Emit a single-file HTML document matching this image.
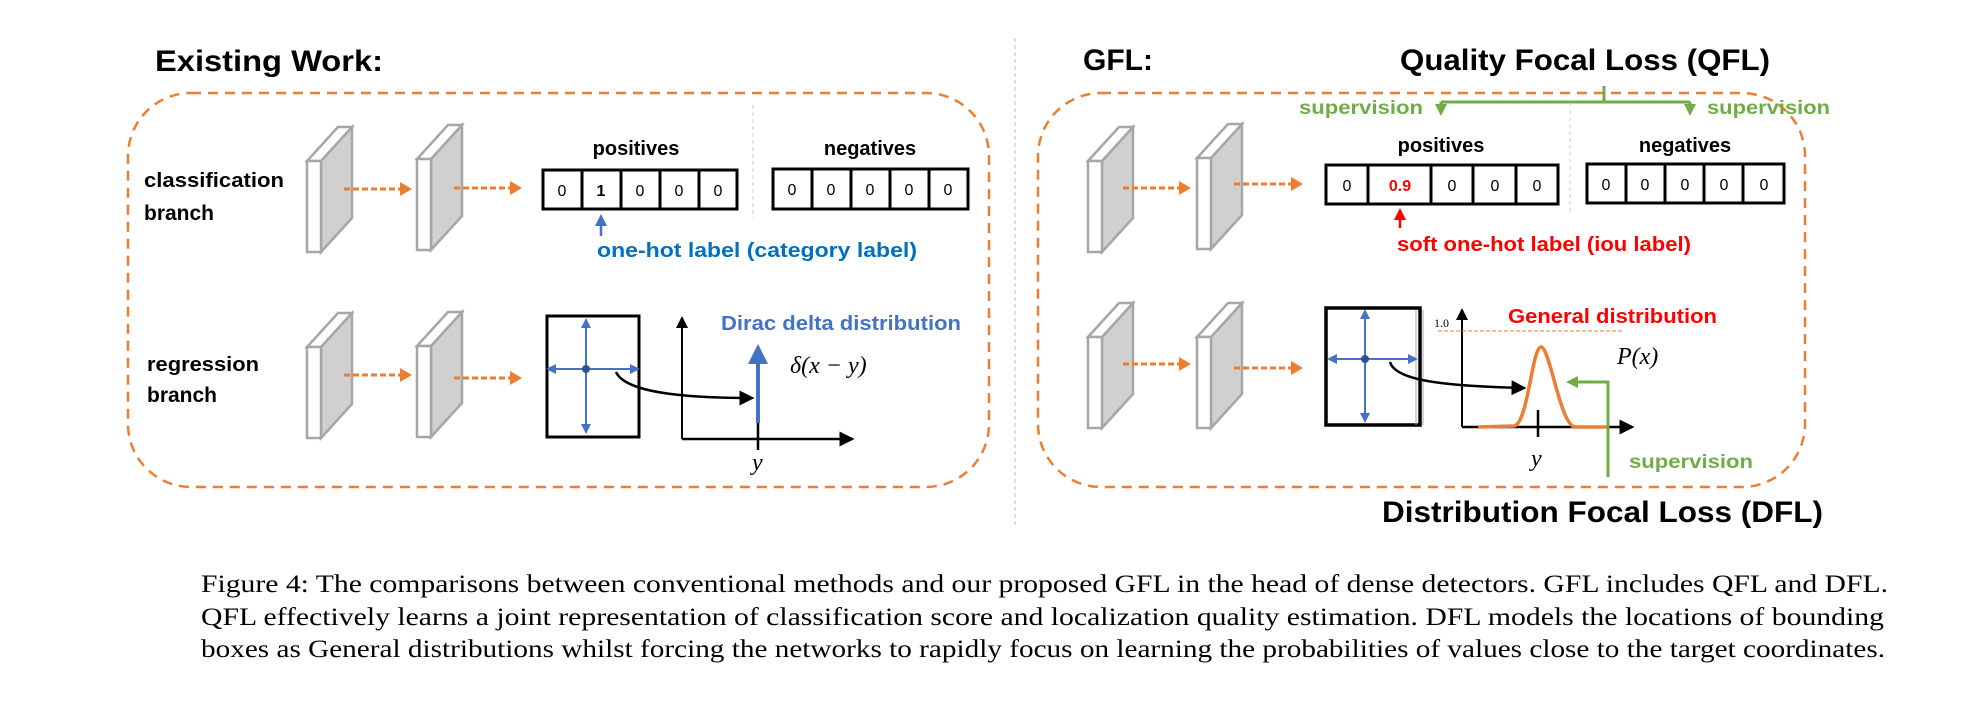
<!DOCTYPE html>
<html><head><meta charset="utf-8"><style>
html,body{margin:0;padding:0;background:#fff;}
svg{display:block;}
.b{font-family:"Liberation Sans",sans-serif;font-weight:bold;}
.s{font-family:"Liberation Serif",serif;}
</style></head><body>
<svg width="1970" height="714" viewBox="0 0 1970 714" xmlns="http://www.w3.org/2000/svg">
<defs>
<marker id="oa" markerWidth="12" markerHeight="14" refX="2" refY="7" orient="auto" markerUnits="userSpaceOnUse"><path d="M0,0 L12,7 L0,14 z" fill="#ED7D31"/></marker>
<marker id="ba" markerWidth="6" markerHeight="6" refX="5" refY="3" orient="auto" markerUnits="strokeWidth"><path d="M0,0 L6,3 L0,6 z" fill="#000"/></marker>
<marker id="bl" markerWidth="5" markerHeight="5" refX="4" refY="2.5" orient="auto" markerUnits="strokeWidth"><path d="M0,0 L5,2.5 L0,5 z" fill="#4472C4"/></marker>
<marker id="ga" markerWidth="12" markerHeight="12" refX="2" refY="6" orient="auto" markerUnits="userSpaceOnUse"><path d="M0,0 L12,6 L0,12 z" fill="#70AD47"/></marker>
<marker id="ra" markerWidth="12" markerHeight="12" refX="2" refY="6" orient="auto" markerUnits="userSpaceOnUse"><path d="M0,0 L12,6 L0,12 z" fill="#f00"/></marker>
<marker id="ua" markerWidth="12" markerHeight="12" refX="2" refY="6" orient="auto" markerUnits="userSpaceOnUse"><path d="M0,0 L12,6 L0,12 z" fill="#4472C4"/></marker>
<g id="slab">
<polygon points="14,34 45,0 45,91 14,125" fill="#d0d0d0" stroke="#a6a6a6" stroke-width="2.5"/>
<polygon points="0,34 14,34 45,0 31,0" fill="#fff" stroke="#a6a6a6" stroke-width="2.5"/>
<rect x="0" y="34" width="14" height="91" fill="#fff" stroke="#a6a6a6" stroke-width="2.5"/>
</g>
</defs>

<line x1="1015" y1="38" x2="1015" y2="528" stroke="#bbb" stroke-width="1" stroke-dasharray="4,3"/>

<!-- LEFT -->
<text class="b" x="155" y="71" font-size="30" textLength="228" lengthAdjust="spacingAndGlyphs">Existing Work:</text>
<rect x="128" y="93" width="861" height="394" rx="63" fill="none" stroke="#ED7D31" stroke-width="2.5" stroke-dasharray="10,7"/>
<text class="b" x="144" y="187" font-size="20" textLength="140" lengthAdjust="spacingAndGlyphs">classification</text>
<text class="b" x="144" y="220" font-size="21">branch</text>
<text class="b" x="147" y="371" font-size="20" textLength="112" lengthAdjust="spacingAndGlyphs">regression</text>
<text class="b" x="147" y="402" font-size="21">branch</text>
<use href="#slab" x="307" y="127"/>
<use href="#slab" x="417" y="125"/>
<use href="#slab" x="307" y="313"/>
<use href="#slab" x="417" y="312"/>
<g stroke="#ED7D31" stroke-width="3" stroke-dasharray="6,3" marker-end="url(#oa)" fill="none">
<line x1="344" y1="189" x2="402" y2="189"/>
<line x1="454" y1="188" x2="512" y2="188"/>
<line x1="344" y1="375" x2="402" y2="375"/>
<line x1="454" y1="378" x2="512" y2="378"/>
</g>
<text class="b" x="636" y="155" font-size="20" text-anchor="middle">positives</text>
<text class="b" x="870" y="155" font-size="20" text-anchor="middle">negatives</text>
<line x1="753" y1="105" x2="753" y2="218" stroke="#ccc" stroke-width="1" stroke-dasharray="4,3"/>
<g fill="none" stroke="#000" stroke-width="3">
<rect x="543" y="170" width="194" height="39"/>
<line x1="582" y1="170" x2="582" y2="209"/><line x1="621" y1="170" x2="621" y2="209"/><line x1="660" y1="170" x2="660" y2="209"/><line x1="699" y1="170" x2="699" y2="209"/>
<rect x="773" y="169" width="195" height="40"/>
<line x1="812" y1="169" x2="812" y2="209"/><line x1="851" y1="169" x2="851" y2="209"/><line x1="890" y1="169" x2="890" y2="209"/><line x1="929" y1="169" x2="929" y2="209"/>
</g>
<g font-family="Liberation Sans,sans-serif" font-size="16" text-anchor="middle">
<text x="562" y="196">0</text><text x="601" y="196" font-weight="bold">1</text><text x="640" y="196">0</text><text x="679" y="196">0</text><text x="718" y="196">0</text>
<text x="792" y="195">0</text><text x="831" y="195">0</text><text x="870" y="195">0</text><text x="909" y="195">0</text><text x="948" y="195">0</text>
</g>
<line x1="601" y1="236" x2="601" y2="224" stroke="#4472C4" stroke-width="2.5" marker-end="url(#ua)"/>
<text class="b" x="597" y="257" font-size="20" fill="#0070C0" textLength="320" lengthAdjust="spacingAndGlyphs">one-hot label (category label)</text>
<rect x="547" y="316" width="92" height="121" fill="none" stroke="#000" stroke-width="3"/>
<g stroke="#4472C4" stroke-width="2" marker-end="url(#bl)" fill="none">
<line x1="586" y1="369" x2="586" y2="432"/>
<line x1="586" y1="369" x2="586" y2="320"/>
<line x1="586" y1="369" x2="638" y2="369"/>
<line x1="586" y1="369" x2="548" y2="369"/>
</g>
<circle cx="586" cy="369" r="4" fill="#2F528F"/>
<path d="M616,372 C625,392 680,398 752,398" fill="none" stroke="#000" stroke-width="2.5" marker-end="url(#ba)"/>
<line x1="682" y1="439" x2="682" y2="318" stroke="#000" stroke-width="2" marker-end="url(#ba)"/>
<line x1="682" y1="439" x2="852" y2="439" stroke="#000" stroke-width="2.5" marker-end="url(#ba)"/>
<line x1="758" y1="423" x2="758" y2="348" stroke="#4472C4" stroke-width="4" marker-end="url(#bl)"/>
<line x1="758" y1="423" x2="758" y2="450" stroke="#000" stroke-width="2.5"/>
<text class="b" x="721" y="330" font-size="20" fill="#4472C4" textLength="240" lengthAdjust="spacingAndGlyphs">Dirac delta distribution</text>
<text class="s" x="790" y="373" font-size="24" font-style="italic">δ(x − y)</text>
<text class="s" x="752" y="470" font-size="24" font-style="italic">y</text>

<!-- RIGHT -->
<text class="b" x="1083" y="70" font-size="30">GFL:</text>
<text class="b" x="1400" y="70" font-size="30" textLength="370" lengthAdjust="spacingAndGlyphs">Quality Focal Loss (QFL)</text>
<rect x="1038" y="93" width="767" height="394" rx="63" fill="none" stroke="#ED7D31" stroke-width="2.5" stroke-dasharray="10,7"/>
<g stroke="#70AD47" stroke-width="3" fill="none">
<line x1="1604" y1="86" x2="1604" y2="102"/>
<line x1="1441" y1="102" x2="1690" y2="102"/>
<line x1="1441" y1="102" x2="1441" y2="106" marker-end="url(#ga)"/>
<line x1="1690" y1="102" x2="1690" y2="106" marker-end="url(#ga)"/>
</g>
<text class="b" x="1299" y="114" font-size="19" fill="#70AD47" textLength="124" lengthAdjust="spacingAndGlyphs">supervision</text>
<text class="b" x="1707" y="114" font-size="19" fill="#70AD47" textLength="123" lengthAdjust="spacingAndGlyphs">supervision</text>
<use href="#slab" x="1088" y="127"/>
<use href="#slab" x="1197" y="124"/>
<use href="#slab" x="1088" y="303"/>
<use href="#slab" x="1197" y="303"/>
<g stroke="#ED7D31" stroke-width="3" stroke-dasharray="6,3" marker-end="url(#oa)" fill="none">
<line x1="1123" y1="188" x2="1181" y2="188"/>
<line x1="1234" y1="184" x2="1293" y2="184"/>
<line x1="1123" y1="364" x2="1181" y2="364"/>
<line x1="1234" y1="368" x2="1293" y2="368"/>
</g>
<text class="b" x="1441" y="152" font-size="20" text-anchor="middle">positives</text>
<text class="b" x="1685" y="152" font-size="20" text-anchor="middle">negatives</text>
<line x1="1570" y1="103" x2="1570" y2="212" stroke="#ccc" stroke-width="1" stroke-dasharray="4,3"/>
<g fill="none" stroke="#000" stroke-width="3">
<rect x="1326" y="165" width="232" height="39"/>
<line x1="1368" y1="165" x2="1368" y2="204"/><line x1="1431" y1="165" x2="1431" y2="204"/><line x1="1473" y1="165" x2="1473" y2="204"/><line x1="1516" y1="165" x2="1516" y2="204"/>
<rect x="1587" y="164" width="197" height="39"/>
<line x1="1626" y1="164" x2="1626" y2="203"/><line x1="1665" y1="164" x2="1665" y2="203"/><line x1="1704" y1="164" x2="1704" y2="203"/><line x1="1743" y1="164" x2="1743" y2="203"/>
</g>
<g font-family="Liberation Sans,sans-serif" font-size="16" text-anchor="middle">
<text x="1347" y="191">0</text><text x="1400" y="191" fill="#f00" font-weight="bold">0.9</text><text x="1452" y="191">0</text><text x="1495" y="191">0</text><text x="1537" y="191">0</text>
<text x="1606" y="190">0</text><text x="1645" y="190">0</text><text x="1685" y="190">0</text><text x="1724" y="190">0</text><text x="1764" y="190">0</text>
</g>
<line x1="1400" y1="228" x2="1400" y2="218" stroke="#f00" stroke-width="2.5" marker-end="url(#ra)"/>
<text class="b" x="1397" y="251" font-size="20" fill="#f00" textLength="294" lengthAdjust="spacingAndGlyphs">soft one-hot label (iou label)</text>
<rect x="1326" y="308" width="94" height="117" fill="none" stroke="#000" stroke-width="3.5"/>
<line x1="1416" y1="310" x2="1416" y2="425" stroke="#aaa" stroke-width="1"/>
<line x1="1423" y1="310" x2="1423" y2="425" stroke="#aaa" stroke-width="1"/>
<g stroke="#4472C4" stroke-width="2" marker-end="url(#bl)" fill="none">
<line x1="1365" y1="359" x2="1365" y2="421"/>
<line x1="1365" y1="359" x2="1365" y2="311"/>
<line x1="1365" y1="359" x2="1416" y2="359"/>
<line x1="1365" y1="359" x2="1329" y2="359"/>
</g>
<circle cx="1365" cy="359" r="4" fill="#2F528F"/>
<path d="M1390,362 C1395,380 1440,386 1524,388" fill="none" stroke="#000" stroke-width="2.5" marker-end="url(#ba)"/>
<line x1="1462" y1="427" x2="1462" y2="310" stroke="#000" stroke-width="2" marker-end="url(#ba)"/>
<line x1="1462" y1="427" x2="1632" y2="427" stroke="#000" stroke-width="2.5" marker-end="url(#ba)"/>
<text class="s" x="1434" y="327" font-size="12">1.0</text>
<line x1="1438" y1="331" x2="1623" y2="331" stroke="#ED7D31" stroke-width="1" stroke-dasharray="4,2"/>
<text class="b" x="1508" y="323" font-size="20" fill="#f00" textLength="209" lengthAdjust="spacingAndGlyphs">General distribution</text>
<text class="s" x="1617" y="364" font-size="24" font-style="italic">P(x)</text>
<path d="M1478,427 L1514,426 C1528,424 1532,347 1541,347 C1550,347 1560,425 1575,427 L1608,427" fill="none" stroke="#ED7D31" stroke-width="3.5"/>
<line x1="1538" y1="410" x2="1538" y2="437" stroke="#000" stroke-width="2.5"/>
<text class="s" x="1531" y="466" font-size="24" font-style="italic">y</text>
<polyline points="1608,477 1608,382 1576,382" fill="none" stroke="#70AD47" stroke-width="3" marker-end="url(#ga)"/>
<text class="b" x="1629" y="468" font-size="19" fill="#70AD47" textLength="124" lengthAdjust="spacingAndGlyphs">supervision</text>
<text class="b" x="1382" y="522" font-size="30" textLength="441" lengthAdjust="spacingAndGlyphs">Distribution Focal Loss (DFL)</text>

<g class="s" font-size="25">
<text x="201" y="592" textLength="1687" lengthAdjust="spacingAndGlyphs">Figure 4: The comparisons between conventional methods and our proposed GFL in the head of dense detectors. GFL includes QFL and DFL.</text>
<text x="201" y="625" textLength="1683" lengthAdjust="spacingAndGlyphs">QFL effectively learns a joint representation of classification score and localization quality estimation. DFL models the locations of bounding</text>
<text x="201" y="657" textLength="1684" lengthAdjust="spacingAndGlyphs">boxes as General distributions whilst forcing the networks to rapidly focus on learning the probabilities of values close to the target coordinates.</text>
</g>
</svg>
</body></html>
